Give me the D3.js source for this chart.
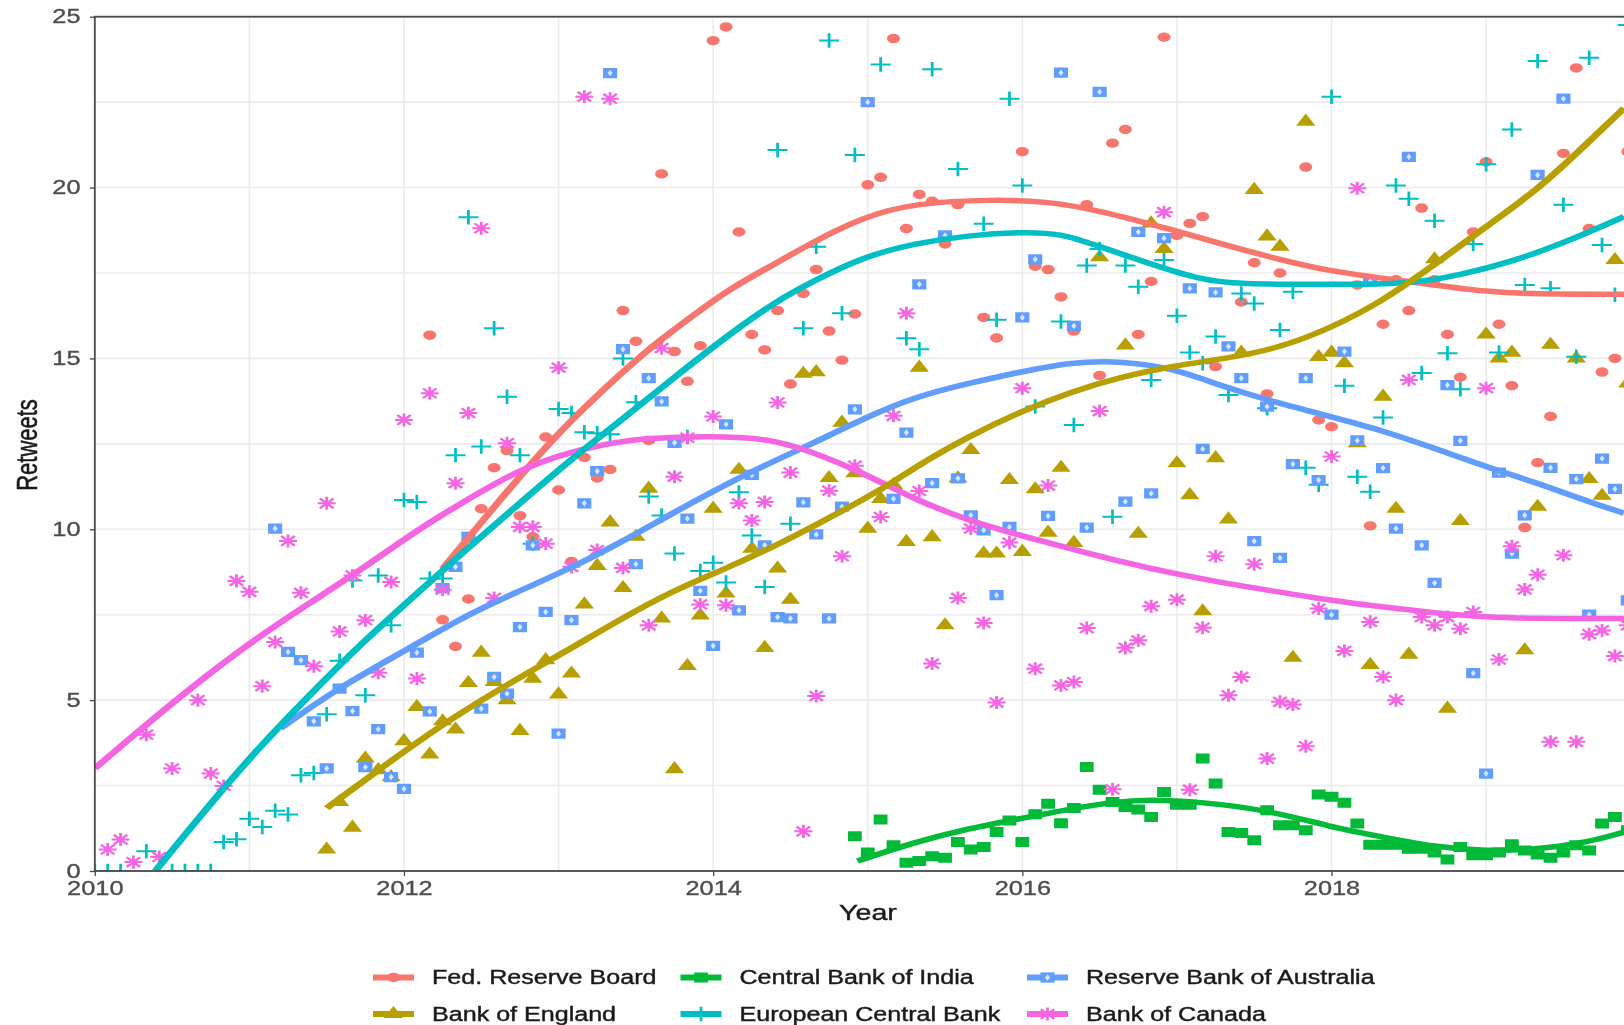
<!DOCTYPE html>
<html>
<head>
<meta charset="utf-8">
<script src="https://cdn.jsdelivr.net/npm/d3@7"></script>
<style>
  html, body { margin: 0; padding: 0; background: #fff; overflow: hidden; }
  svg { display: block; filter: blur(0.7px); }
  text { font-family: "Liberation Sans", Arial, sans-serif; }
</style>
</head>
<body>
<svg></svg>
<script>
	var width = 1624,
		height = 1025;

	// Tweets are monthly, so every series is: month count since Jan 2010, then one value per month.
	// null = nothing readable in that month (hidden under a line or another mark)
	var fedStart = 26;
	var fedValues = [15.68,7.35,6.57,7.96,10.6,11.8,12.3,10.4,9.78,12.7,11.15,9.06,12.1,11.5,11.75,16.4,15.5,12.6,20.4,15.2,14.33,15.37,24.3,24.7,18.7,15.7,15.25,16.4,14.25,16.9,17.6,15.8,14.95,16.3,20.08,20.3,24.36,18.8,19.8,19.6,18.35,19.5,null,16.2,15.6,null,21.05,17.7,17.6,16.8,15.8,19.5,14.5,21.3,21.7,15.7,17.25,24.4,18.6,18.95,19.15,14.76,null,16.65,17.8,13.96,17.5,null,20.6,13.2,13,null,17.15,10.1,16,17.3,16.4,19.4,17.3,15.7,14.45,18.7,20.75,16,14.2,10.05,11.95,13.3,21,23.5,18.8,14.6,15,21.05];

	var boeStart = 18;
	var boeValues = [0.63,2.02,1.27,3.29,2.95,2.75,3.8,4.8,3.41,4.38,4.14,5.5,6.39,5.53,5,4.1,5.63,6.17,5.17,5.78,7.8,8.93,10.2,8.28,9.78,11.19,7.39,2.98,6,7.48,10.6,8.12,11.74,9.43,6.53,8.85,7.94,14.55,14.6,11.5,13.12,11.64,10.02,10.89,11.3,9.63,14.73,9.77,7.19,11.49,12.32,9.29,9.29,11.44,9.34,11.17,9.9,11.8,9.6,null,17.96,null,15.38,9.87,18.95,18.2,11.93,11,7.6,12.08,10.29,15.17,19.93,18.57,18.27,6.24,21.93,15.04,15.17,14.86,12.52,6.03,13.88,10.6,6.33,null,17.9,4.75,10.24,null,15.7,15,15.17,6.46,10.66,15.4,null,15,11.47,10.98,17.88,14.27];

	var indiaStart = 59;
	var indiaValues = [1.02,0.54,1.51,0.75,0.24,0.29,0.43,0.39,0.85,0.63,0.7,1.14,1.48,0.85,1.66,1.97,1.4,1.84,3.04,2.38,2.02,1.87,1.8,1.58,2.31,1.94,1.94,3.29,2.56,1.14,1.11,0.9,1.78,1.34,1.34,1.19,2.24,2.17,2,1.39,0.77,0.77,0.77,0.65,0.65,0.54,0.34,0.7,0.46,0.46,0.54,0.78,0.6,0.48,0.39,0.54,0.75,0.6,1.39,1.58,1.19];

	var ecbStart = 0;
	var ecbValues = [0,0,0,null,0.58,null,0,0,0,0,0.85,0.93,1.53,1.29,1.76,1.65,2.8,2.87,4.59,6.15,8.5,5.14,8.65,7.19,10.86,10.8,8.56,8.56,12.17,19.13,12.42,15.88,13.88,12.17,9.58,null,13.52,13.4,12.84,12.81,12.78,15,13.72,10.96,10.4,9.29,12.7,8.78,9.02,8.44,11.08,9.82,8.31,21.1,10.16,15.88,18.27,24.3,16.32,20.95,null,23.6,null,15.59,15.27,23.46,null,20.54,null,18.94,16.13,22.6,20.06,13.59,null,16.08,13.05,17.72,18.2,10.37,17.72,17.1,14.37,17.88,16.25,15.17,14.86,15.64,13.93,16.9,16.61,13.54,15.83,16.95,11.8,11.3,22.66,14.2,11.54,11.1,13.27,20.06,19.67,14.57,19.03,15.15,14.1,18.35,20.68,15.17,21.7,17.15,23.7,17.05,19.5,15.05,23.8,18.32,16.86,24.76];

	var rbaStart = 14;
	var rbaValues = [10.02,6.41,6.17,4.38,3,5.34,4.68,3.04,4.15,2.75,2.4,6.39,4.67,8.28,8.9,9.78,4.75,5.68,5.19,7.14,9.53,7.58,4.02,7.34,10.76,11.7,23.35,15.27,8.98,14.42,13.74,12.53,10.31,8.2,6.59,13.07,7.63,11.59,9.53,7.43,7.39,10.79,9.85,7.39,10.66,13.51,22.5,null,10.89,12.83,17.17,11.35,18.6,11.49,10.41,9.97,8.07,10.07,16.2,17.9,10.39,23.36,15.95,10.05,22.8,null,10.81,18.7,11.05,18.52,null,17.05,12.35,16.93,15.35,14.42,9.65,13.59,9.16,11.91,14.42,11.44,7.5,15.2,12.6,17.25,11.79,10.02,20.9,9.53,8.43,14.22,12.59,5.79,2.85,11.66,9.29,10.41,20.37,11.8,22.6,11.47,7.5,12.07,11.18,7.92];

	var canadaStart = 1;
	var canadaValues = [0.63,0.92,0.26,3.99,0.41,3,null,5,2.85,2.49,8.49,8.17,5.41,6.7,9.66,8.14,5.99,10.76,7.01,8.65,7.34,5.8,8.46,13.2,5.63,13.98,8.23,11.35,13.4,18.81,7.99,12.52,10.07,10.07,9.58,14.73,8.9,22.66,9.39,22.6,8.87,null,7.19,15.3,11.54,12.68,7.8,13.3,7.78,10.76,10.26,10.8,13.71,11.66,1.16,5.12,11.13,9.21,11.86,null,10.36,13.32,16.32,11.12,6.07,null,7.99,10.02,7.26,4.93,9.61,14.13,5.92,11.28,5.43,5.53,7.11,13.46,2.39,6.53,6.75,7.75,19.28,7.94,2.38,7.12,9.21,5.14,5.68,8.98,3.29,4.95,4.87,3.65,7.68,12.13,6.44,19.98,7.29,5.68,5,14.37,7.43,7.19,7.43,7.09,7.58,14.13,6.19,9.5,8.24,8.67,3.78,9.24,3.78,6.93,7.04,6.29,7.19];

	// smoothed trends, [month, value]
	var fedTrend = [[27,8.85],[30.8,10.56],[34.9,12.4],[38.9,13.9],[42.9,15.25],[44.5,15.7],[49,17],[53,17.8],[55.7,18.4],[59.7,19.15],[63.7,19.55],[69.8,19.65],[73.8,19.6],[77.8,19.35],[83.8,18.75],[87.9,18.3],[91.9,17.9],[95.9,17.55],[99.9,17.35],[104,17.15],[108,16.95],[112,16.88],[118.7,16.88]];
	var boeTrend = [[18,1.84],[22,2.95],[27.2,4.36],[32.8,5.63],[36.9,6.5],[40.9,7.39],[44.9,8.21],[49,8.85],[53,9.55],[55.7,10.07],[61.3,11.2],[63.7,11.83],[67.8,12.71],[71.8,13.44],[75.8,14.03],[79.8,14.47],[83.8,14.79],[87.9,15],[91.9,15.3],[95.9,15.88],[99.9,16.66],[104,17.74],[108,18.86],[112,19.93],[116,21.35],[118.7,22.32]];
	var indiaTrend = [[59.2,0.29],[63.7,0.85],[67.8,1.24],[71.8,1.53],[75.8,1.82],[79,2.02],[81.8,2.1],[85.9,2.02],[91.1,1.78],[95.9,1.29],[99.9,1],[104,0.7],[108,0.58],[112,0.63],[116,0.85],[118.7,1.14]];
	var ecbTrend = [[4.7,0],[8.7,1.85],[12.7,3.6],[16.8,5.2],[20.8,6.7],[24.8,8.05],[28.8,9.4],[32.8,10.7],[36.9,12.03],[40.9,13.2],[44.9,14.42],[49,15.64],[53,16.7],[55.7,17.25],[59.7,17.98],[63.7,18.37],[67.8,18.6],[71.8,18.7],[75,18.66],[77.8,18.3],[81.8,17.78],[85.9,17.3],[88.7,17.17],[95.9,17.17],[102,17.17],[106,17.44],[110,17.83],[114,18.37],[118.7,19.15]];
	var rbaTrend = [[14.4,4.17],[18.8,5.34],[24.8,6.6],[28.8,7.48],[32.8,8.17],[36.9,8.85],[40.9,9.63],[44.5,10.4],[50.1,11.55],[55.7,12.5],[59.7,13.25],[63.7,13.88],[67.8,14.27],[71.8,14.6],[75.8,14.9],[79.8,14.92],[83.8,14.71],[87.9,14.13],[91.9,13.69],[95.9,13.3],[99.9,12.9],[104,12.37],[108,11.83],[112,11.35],[116,10.8],[118.7,10.47]];
	var canadaTrend = [[0,3],[3.9,4.26],[8.7,5.73],[12.7,6.85],[16.8,7.87],[20.8,8.85],[24.8,9.92],[27.6,10.57],[32.8,11.74],[36.9,12.27],[40.9,12.6],[44.9,12.71],[50.5,12.71],[53,12.57],[55.7,12.27],[59.7,11.64],[63.7,10.86],[67.8,10.26],[71.8,9.82],[75.8,9.43],[79.8,9.04],[83.8,8.7],[87.9,8.41],[91.9,8.17],[95.9,7.92],[99.9,7.73],[104,7.55],[108,7.43],[112,7.39],[118.7,7.39]];

	var xTicks = [2010,2012,2014,2016,2018];
	var xMinor = [2011,2013,2015,2017,2019];
	var yTicks = [0,5,10,15,20,25];
	var yMinor = [2.5,7.5,12.5,17.5,22.5];

	// the picture is stretched sideways, marks and text come out about this much wider than tall
	var stretch = 1.38;
	var textStretch = 1.3;

	var plus = {
		draw: function(ctx, size) {
			var r = Math.sqrt(size) / 2;
			ctx.moveTo(-r, 0); ctx.lineTo(r, 0);
			ctx.moveTo(0, -r); ctx.lineTo(0, r);
		}
	};
	var star = {
		draw: function(ctx, size) {
			var r = Math.sqrt(size) / 2, k = r * 0.75;
			ctx.moveTo(-r, 0); ctx.lineTo(r, 0);
			ctx.moveTo(0, -r); ctx.lineTo(0, r);
			ctx.moveTo(-k, -k); ctx.lineTo(k, k);
			ctx.moveTo(-k, k); ctx.lineTo(k, -k);
		}
	};

	var series = [
		{name: "Fed. Reserve Board", start: fedStart, values: fedValues, trend: fedTrend, color: "#F8766D", symbol: d3.symbolCircle, size: 70, open: false},
		{name: "Bank of England", start: boeStart, values: boeValues, trend: boeTrend, color: "#B79F00", symbol: d3.symbolTriangle, size: 85, open: false},
		{name: "Central Bank of India", start: indiaStart, values: indiaValues, trend: indiaTrend, color: "#00BA38", symbol: d3.symbolSquare, size: 100, open: false},
		{name: "European Central Bank", start: ecbStart, values: ecbValues, trend: ecbTrend, color: "#00BFC4", symbol: plus, size: 210, open: true},
		{name: "Reserve Bank of Australia", start: rbaStart, values: rbaValues, trend: rbaTrend, color: "#619CFF", symbol: d3.symbolSquare, size: 105, open: false, inner: true},
		{name: "Bank of Canada", start: canadaStart, values: canadaValues, trend: canadaTrend, color: "#F564E3", symbol: star, size: 170, open: true}
	];

	var lineOrder = [0, 2, 4, 5, 3, 1];

	// window.top can't be reassigned, hence the long names
	var panelLeft = 94.8, panelRight = 1624, panelTop = 16.7, panelBottom = 871;

	var year = function(m) { return 2010 + m / 12; };

	var x = d3.scaleLinear().domain([2010, 2019.892]).range([panelLeft, panelRight]);
	var y = d3.scaleLinear().domain([0, 25]).range([panelBottom, panelTop]);

	var svg = d3.select("svg")
		.attr("width", width)
		.attr("height", height);

	svg.append("defs").append("clipPath")
		.attr("id", "panel")
		.append("rect")
		.attr("x", panelLeft).attr("y", panelTop)
		.attr("width", panelRight - panelLeft).attr("height", panelBottom - panelTop);

	// grid
	var grid = svg.append("g").attr("stroke", "#ebebeb").attr("stroke-width", 1.6);
	grid.selectAll(".vgrid").data(xTicks.concat(xMinor)).enter().append("line")
		.attr("class", "vgrid")
		.attr("x1", function(d) { return x(d); }).attr("x2", function(d) { return x(d); })
		.attr("y1", panelTop).attr("y2", panelBottom);
	grid.selectAll(".hgrid").data(yTicks.concat(yMinor)).enter().append("line")
		.attr("class", "hgrid")
		.attr("x1", panelLeft).attr("x2", panelRight)
		.attr("y1", function(d) { return y(d); }).attr("y2", function(d) { return y(d); });

	var marks = svg.append("g").attr("clip-path", "url(#panel)");

	var drawMarker = function(sel, s) {
		sel.append("path")
			.attr("d", d3.symbol().type(s.symbol).size(s.size))
			.attr("fill", s.open ? "none" : s.color)
			.attr("stroke", s.open ? s.color : "none")
			.attr("stroke-width", 2);
		if (s.inner) {
			sel.append("path")
				.attr("d", d3.symbol().type(d3.symbolDiamond).size(12))
				.attr("fill", "#fff")
				.attr("opacity", 0.75);
		}
	};

	series.forEach(function(s) {
		var pts = s.values.map(function(v, i) { return {m: s.start + i, v: v}; })
			.filter(function(d) { return d.v !== null; });
		marks.append("g").selectAll("g").data(pts).enter().append("g")
			.attr("transform", function(d) {
				return "translate(" + x(year(d.m)) + "," + y(d.v) + ") scale(" + stretch + ",1)";
			})
			.each(function() { drawMarker(d3.select(this), s); });
	});

	// trends sit in a scaled group so the stroke gets thicker on the steep parts, as in the picture
	var line = d3.line()
		.x(function(d) { return x(year(d[0])) / stretch; })
		.y(function(d) { return y(d[1]); })
		.curve(d3.curveBasis);

	var trends = marks.append("g").attr("transform", "scale(" + stretch + ",1)");

	lineOrder.forEach(function(i) {
		trends.append("path")
			.attr("d", line(series[i].trend))
			.attr("fill", "none")
			.attr("stroke", series[i].color)
			.attr("stroke-width", 5.5);
	});

	// panel border
	svg.append("rect")
		.attr("x", panelLeft).attr("y", panelTop)
		.attr("width", panelRight - panelLeft + 10).attr("height", panelBottom - panelTop)
		.attr("fill", "none")
		.attr("stroke", "#4a4a4a")
		.attr("stroke-width", 1.8);

	// axes
	var xAxis = svg.append("g")
		.attr("transform", "translate(0," + panelBottom + ")")
		.call(d3.axisBottom(x).tickValues(xTicks).tickFormat(d3.format("d")).tickSize(5));
	var yAxis = svg.append("g")
		.attr("transform", "translate(" + panelLeft + ",0)")
		.call(d3.axisLeft(y).tickValues(yTicks).tickSize(5));

	xAxis.select(".domain").remove();
	yAxis.select(".domain").remove();
	xAxis.selectAll("line").attr("stroke", "#4a4a4a").attr("stroke-width", 1.3);
	yAxis.selectAll("line").attr("stroke", "#4a4a4a").attr("stroke-width", 1.3);

	xAxis.selectAll("text")
		.attr("y", 24).attr("dy", 0)
		.attr("font-size", 19.5).attr("font-family", "Liberation Sans")
		.attr("fill", "#4d4d4d")
		.attr("stroke", "#4d4d4d").attr("stroke-width", 0.35)
		.attr("text-anchor", "middle")
		.attr("transform", "scale(" + textStretch + ",1)");
	yAxis.selectAll("text")
		.attr("x", -11)
		.attr("font-size", 19.5).attr("font-family", "Liberation Sans")
		.attr("fill", "#4d4d4d")
		.attr("stroke", "#4d4d4d").attr("stroke-width", 0.35)
		.attr("transform", "scale(" + textStretch + ",1)");

	svg.append("text")
		.attr("transform", "translate(868,920) scale(" + textStretch + ",1)")
		.attr("text-anchor", "middle")
		.attr("font-size", 22)
		.attr("fill", "#1a1a1a")
		.attr("stroke", "#1a1a1a").attr("stroke-width", 0.4)
		.text("Year");

	svg.append("text")
		.attr("transform", "translate(37,445) scale(" + stretch + ",1) rotate(-90)")
		.attr("text-anchor", "middle")
		.attr("font-size", 22)
		.attr("fill", "#1a1a1a")
		.attr("stroke", "#1a1a1a").attr("stroke-width", 0.4)
		.text("Retweets");

	// legend, filled column by column
	var legendCols = [373, 680.5, 1027];
	var legendRows = [977.5, 1014];

	var legend = svg.selectAll(".key").data(series).enter().append("g")
		.attr("class", "key")
		.attr("transform", function(d, i) {
			return "translate(" + legendCols[Math.floor(i / 2)] + "," + legendRows[i % 2] + ")";
		});

	legend.each(function(s) {
		var g = d3.select(this);
		g.append("line")
			.attr("x1", 0).attr("x2", 41)
			.attr("stroke", s.color)
			.attr("stroke-width", 6);
		var k = g.append("g").attr("transform", "translate(20.5,0) scale(" + stretch + ",1)");
		drawMarker(k, s);
		g.append("text")
			.attr("transform", "translate(59,0) scale(" + textStretch + ",1)")
			.attr("dy", "0.35em")
			.attr("font-size", 19.3)
			.attr("fill", "#1a1a1a")
			.attr("stroke", "#1a1a1a").attr("stroke-width", 0.4)
			.text(s.name);
	});
</script>
</body>
</html>
